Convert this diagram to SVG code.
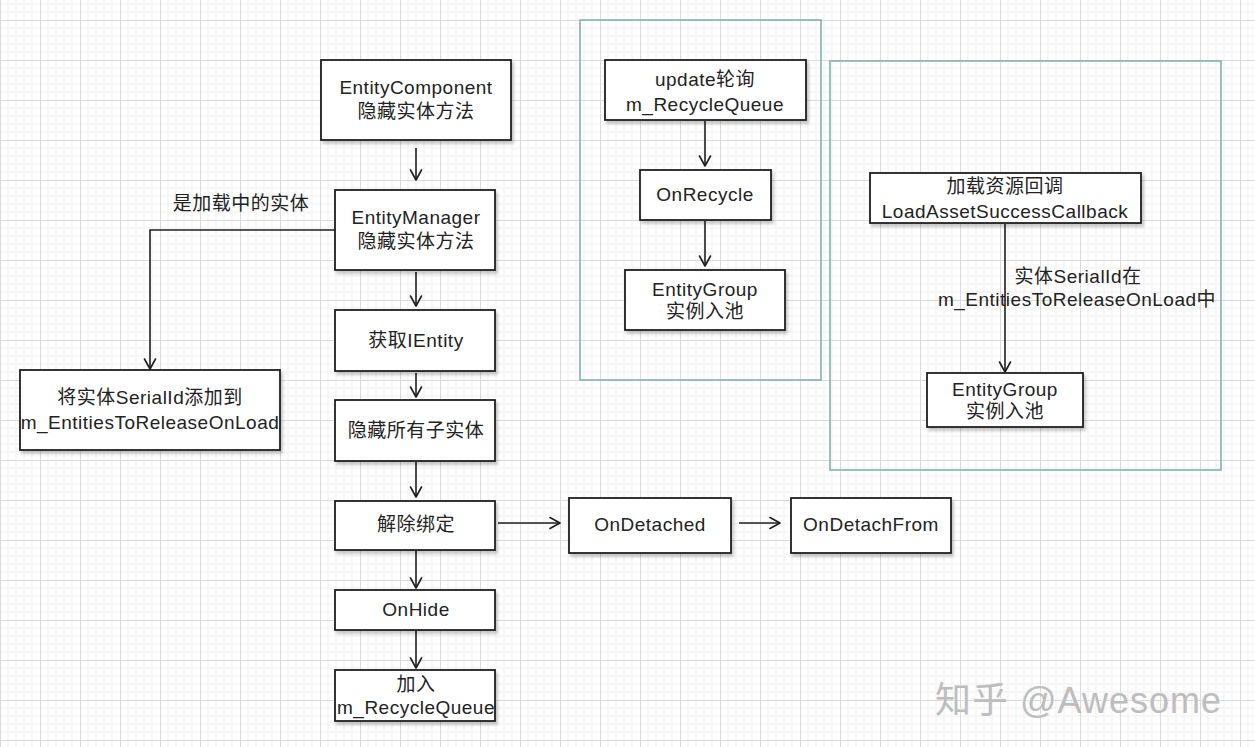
<svg xmlns="http://www.w3.org/2000/svg" width="1255" height="747" viewBox="0 0 1255 747">
<defs>
<pattern id="grid" width="40" height="40" x="0" y="20" patternUnits="userSpaceOnUse">
<path d="M8 0V40M16 0V40M24 0V40M32 0V40M0 8H40M0 16H40M0 24H40M0 32H40" stroke="#efefef" stroke-width="1" fill="none"/>
<path d="M0.5 0V40M0 0.5H40" stroke="#dadada" stroke-width="1" fill="none"/>
</pattern>
<marker id="arr" markerWidth="14" markerHeight="14" refX="11" refY="7" orient="auto" markerUnits="userSpaceOnUse">
<path d="M1 1.5L11 7L1 12.5" fill="none" stroke="#1e1e1e" stroke-width="1.6" stroke-linecap="round" stroke-linejoin="round"/>
</marker>
<filter id="sh" x="-10%" y="-10%" width="125%" height="130%">
<feDropShadow dx="2" dy="3" stdDeviation="1.5" flood-color="#000" flood-opacity="0.22"/>
</filter>
</defs>
<style>
.box{fill:#fff;stroke:#1e1e1e;stroke-width:1.8;filter:url(#sh)}
.cont{fill:none;stroke:#7fb3aa;stroke-width:1.6}
.t{font-family:"Liberation Sans","Noto Sans CJK SC",sans-serif;font-size:19px;letter-spacing:0.5px;fill:#222;text-anchor:middle}
.c{fill:none;stroke:#1e1e1e;stroke-width:1.6;marker-end:url(#arr)}
.wm{font-family:"Liberation Sans","Noto Sans CJK SC",sans-serif;font-size:36px;letter-spacing:1px;fill:#bdbdbd;text-anchor:start}
</style>
<rect width="1255" height="747" fill="#fff"/>
<rect width="1255" height="747" fill="url(#grid)"/>

<g id="container1"><rect class="cont" x="580" y="20" width="241" height="360"/></g>
<g id="container2"><rect class="cont" x="830" y="61" width="391" height="409"/></g>

<g id="connectors">
<path class="c" d="M416 148V180"/>
<path class="c" d="M416 272V306"/>
<path class="c" d="M416 373V397"/>
<path class="c" d="M416 462V497"/>
<path class="c" d="M416 551V588"/>
<path class="c" d="M416 631V668"/>
<path class="c" d="M335 230H150V369"/>
<path class="c" d="M498 523H560"/>
<path class="c" d="M739 523H780"/>
<path class="c" d="M705 121V166"/>
<path class="c" d="M705 221V266"/>
<path class="c" d="M1005 224V372"/>
<text class="t" x="241" y="210">是加载中的实体</text>
<text class="t" x="1078" y="283">实体SerialId在</text>
<text class="t" x="1077" y="306">m_EntitiesToReleaseOnLoad中</text>
</g>

<g id="n1"><rect class="box" x="321" y="60" width="190" height="80"/>
<text class="t" x="416" y="94">EntityComponent</text><text class="t" x="416" y="118">隐藏实体方法</text></g>
<g id="n2"><rect class="box" x="335" y="190" width="160" height="80"/>
<text class="t" x="416" y="224">EntityManager</text><text class="t" x="416" y="248">隐藏实体方法</text></g>
<g id="n3"><rect class="box" x="335" y="310" width="160" height="61"/>
<text class="t" x="416" y="347">获取IEntity</text></g>
<g id="n4"><rect class="box" x="335" y="400" width="160" height="61"/>
<text class="t" x="416" y="437">隐藏所有子实体</text></g>
<g id="n5"><rect class="box" x="335" y="501" width="160" height="49"/>
<text class="t" x="416" y="531">解除绑定</text></g>
<g id="n6"><rect class="box" x="335" y="590" width="160" height="40"/>
<text class="t" x="416" y="616">OnHide</text></g>
<g id="n7"><rect class="box" x="335" y="670" width="160" height="51"/>
<text class="t" x="416" y="691">加入</text><text class="t" x="416" y="714">m_RecycleQueue</text></g>
<g id="n8"><rect class="box" x="20" y="370" width="260" height="80"/>
<text class="t" x="150" y="404">将实体SerialId添加到</text><text class="t" x="150" y="429">m_EntitiesToReleaseOnLoad</text></g>
<g id="n9"><rect class="box" x="569" y="498" width="162" height="55"/>
<text class="t" x="650" y="531">OnDetached</text></g>
<g id="n10"><rect class="box" x="791" y="498" width="160" height="55"/>
<text class="t" x="871" y="531">OnDetachFrom</text></g>
<g id="n11"><rect class="box" x="605" y="60" width="201" height="60"/>
<text class="t" x="705" y="86">update轮询</text><text class="t" x="705" y="111">m_RecycleQueue</text></g>
<g id="n12"><rect class="box" x="640" y="170" width="131" height="50"/>
<text class="t" x="705" y="201">OnRecycle</text></g>
<g id="n13"><rect class="box" x="625" y="270" width="160" height="60"/>
<text class="t" x="705" y="296">EntityGroup</text><text class="t" x="705" y="318">实例入池</text></g>
<g id="n14"><rect class="box" x="870" y="173" width="271" height="50"/>
<text class="t" x="1005" y="193">加载资源回调</text><text class="t" x="1005" y="218">LoadAssetSuccessCallback</text></g>
<g id="n15"><rect class="box" x="927" y="373" width="156" height="54"/>
<text class="t" x="1005" y="396">EntityGroup</text><text class="t" x="1005" y="418">实例入池</text></g>

<g id="watermark">
<text class="wm" x="935" y="713" style="fill:#f6f6f6" transform="translate(-1,-1)">知乎 @Awesome</text>
<text class="wm" x="935" y="713">知乎 @Awesome</text>
</g>
</svg>
